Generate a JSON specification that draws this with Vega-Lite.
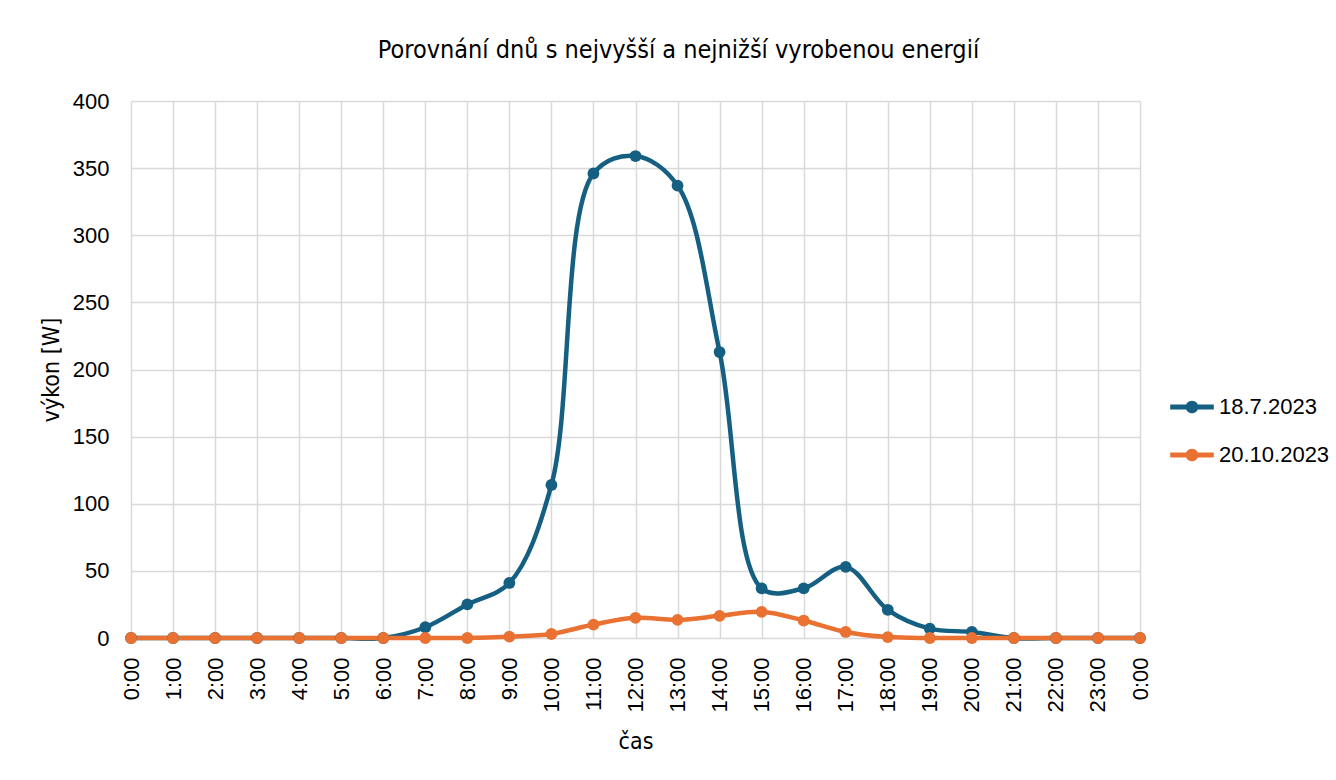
{
  "$schema": "https://vega.github.io/schema/vega-lite/v6.json",
  "autosize": "none",
  "width": 1009,
  "height": 537,
  "padding": {"left": 131, "top": 101, "right": 196, "bottom": 142},
  "background": "white",
  "title": {
    "text": "Porovnání dnů s nejvyšší a nejnižší vyrobenou energií",
    "font": "Liberation Sans Narrow, DejaVu Sans Condensed, sans-serif",
    "fontSize": 25,
    "fontWeight": "normal",
    "color": "#000000",
    "anchor": "middle",
    "frame": "group",
    "dx": 43,
    "offset": 27
  },
  "data": {
    "values": [
      {"h": 0, "d": "18.7.2023", "v": 0},
      {"h": 1, "d": "18.7.2023", "v": 0},
      {"h": 2, "d": "18.7.2023", "v": 0},
      {"h": 3, "d": "18.7.2023", "v": 0},
      {"h": 4, "d": "18.7.2023", "v": 0},
      {"h": 5, "d": "18.7.2023", "v": 0},
      {"h": 6, "d": "18.7.2023", "v": 0},
      {"h": 7, "d": "18.7.2023", "v": 8},
      {"h": 8, "d": "18.7.2023", "v": 25},
      {"h": 9, "d": "18.7.2023", "v": 41},
      {"h": 10, "d": "18.7.2023", "v": 114},
      {"h": 11, "d": "18.7.2023", "v": 346},
      {"h": 12, "d": "18.7.2023", "v": 359},
      {"h": 13, "d": "18.7.2023", "v": 337},
      {"h": 14, "d": "18.7.2023", "v": 213},
      {"h": 15, "d": "18.7.2023", "v": 37},
      {"h": 16, "d": "18.7.2023", "v": 37},
      {"h": 17, "d": "18.7.2023", "v": 53},
      {"h": 18, "d": "18.7.2023", "v": 21},
      {"h": 19, "d": "18.7.2023", "v": 7},
      {"h": 20, "d": "18.7.2023", "v": 4.5},
      {"h": 21, "d": "18.7.2023", "v": 0},
      {"h": 22, "d": "18.7.2023", "v": 0},
      {"h": 23, "d": "18.7.2023", "v": 0},
      {"h": 24, "d": "18.7.2023", "v": 0},
      {"h": 0, "d": "20.10.2023", "v": 0},
      {"h": 1, "d": "20.10.2023", "v": 0},
      {"h": 2, "d": "20.10.2023", "v": 0},
      {"h": 3, "d": "20.10.2023", "v": 0},
      {"h": 4, "d": "20.10.2023", "v": 0},
      {"h": 5, "d": "20.10.2023", "v": 0},
      {"h": 6, "d": "20.10.2023", "v": 0},
      {"h": 7, "d": "20.10.2023", "v": 0},
      {"h": 8, "d": "20.10.2023", "v": 0},
      {"h": 9, "d": "20.10.2023", "v": 1},
      {"h": 10, "d": "20.10.2023", "v": 3},
      {"h": 11, "d": "20.10.2023", "v": 10},
      {"h": 12, "d": "20.10.2023", "v": 15},
      {"h": 13, "d": "20.10.2023", "v": 13.5},
      {"h": 14, "d": "20.10.2023", "v": 16.5},
      {"h": 15, "d": "20.10.2023", "v": 19.5},
      {"h": 16, "d": "20.10.2023", "v": 13},
      {"h": 17, "d": "20.10.2023", "v": 4.5},
      {"h": 18, "d": "20.10.2023", "v": 0.7},
      {"h": 19, "d": "20.10.2023", "v": 0},
      {"h": 20, "d": "20.10.2023", "v": 0},
      {"h": 21, "d": "20.10.2023", "v": 0},
      {"h": 22, "d": "20.10.2023", "v": 0},
      {"h": 23, "d": "20.10.2023", "v": 0},
      {"h": 24, "d": "20.10.2023", "v": 0}
    ]
  },
  "mark": {
    "type": "line",
    "interpolate": "catmull-rom",
    "strokeWidth": 4.5,
    "point": {"filled": true, "size": 140}
  },
  "encoding": {
    "x": {
      "field": "h",
      "type": "quantitative",
      "scale": {"domain": [0, 24], "nice": false, "zero": false},
      "axis": {
        "title": "čas",
        "values": [0,1,2,3,4,5,6,7,8,9,10,11,12,13,14,15,16,17,18,19,20,21,22,23,24],
        "labelExpr": "(datum.value % 24) + ':00'",
        "labelAngle": -90,
        "labelAlign": "right",
        "labelBaseline": "middle",
        "labelPadding": 19,
        "titlePadding": 18
      }
    },
    "y": {
      "field": "v",
      "type": "quantitative",
      "scale": {"domain": [0, 400], "nice": false},
      "axis": {
        "title": "výkon [W]",
        "values": [0, 50, 100, 150, 200, 250, 300, 350, 400],
        "labelPadding": 22,
        "titlePadding": 9
      }
    },
    "color": {
      "field": "d",
      "type": "nominal",
      "scale": {"domain": ["18.7.2023", "20.10.2023"], "range": ["#156082", "#E97132"]},
      "legend": {
        "title": null,
        "orient": "none",
        "legendX": 1039,
        "legendY": 284,
        "symbolType": "M-1,-0.12L1,-0.12L1,0.12L-1,0.12Z M-0.29,0A0.29,0.29 0 1,1 0.29,0A0.29,0.29 0 1,1 -0.29,0Z",
        "symbolSize": 1900,
        "symbolStrokeWidth": 0,
        "rowPadding": 15,
        "labelOffset": 5,
        "encode": {
          "symbols": {"update": {"fill": {"scale": "color", "field": "value"}, "strokeWidth": {"value": 0}}}
        }
      }
    }
  },
  "config": {
    "font": "Liberation Sans",
    "view": {"stroke": null},
    "axis": {
      "labelFont": "Liberation Sans",
      "labelFontSize": 22,
      "labelColor": "#000000",
      "titleFont": "Liberation Sans Narrow, DejaVu Sans Condensed, sans-serif",
      "titleFontSize": 23,
      "titleFontWeight": "normal",
      "titleColor": "#000000",
      "gridColor": "#D9D9D9",
      "gridWidth": 1.5,
      "domain": false,
      "ticks": false
    },
    "legend": {
      "labelFont": "Liberation Sans",
      "labelFontSize": 22,
      "labelColor": "#000000"
    }
  }
}
